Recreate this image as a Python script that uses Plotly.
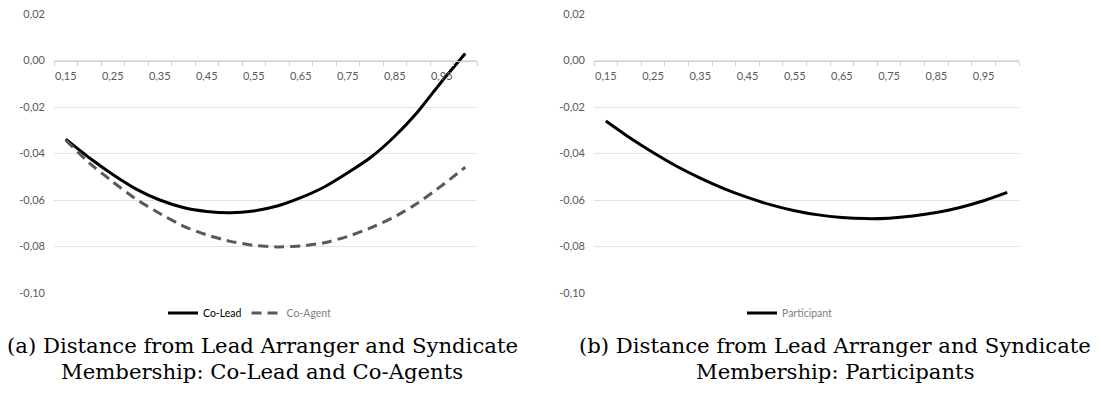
import plotly.graph_objects as go

# ---------------- data ----------------
x_values = [0.15, 0.20, 0.25, 0.30, 0.35, 0.40, 0.45, 0.50, 0.55,
            0.60, 0.65, 0.70, 0.75, 0.80, 0.85, 0.90, 0.95, 1.00]

co_lead = [-0.0338, -0.0418, -0.0490, -0.0553, -0.0600, -0.0632, -0.0649, -0.0655, -0.0647,
           -0.0626, -0.0590, -0.0544, -0.0483, -0.0415, -0.0326, -0.0218, -0.0090, 0.0030]

co_agent = [-0.0343, -0.0440, -0.0522, -0.0597, -0.0658, -0.0712, -0.0750, -0.0778, -0.0795,
            -0.0802, -0.0798, -0.0784, -0.0757, -0.0719, -0.0672, -0.0612, -0.0538, -0.0459]

participant = [-0.0260, -0.0331, -0.0396, -0.0455, -0.0506, -0.0551, -0.0589, -0.0621, -0.0646,
               -0.0664, -0.0675, -0.0680, -0.0678, -0.0669, -0.0654, -0.0632, -0.0603, -0.0567]

x_tick_vals = [0.15, 0.25, 0.35, 0.45, 0.55, 0.65, 0.75, 0.85, 0.95]
x_tick_labels = ["0,15", "0,25", "0,35", "0,45", "0,55", "0,65", "0,75", "0,85", "0,95"]

y_tick_vals = [0.02, 0.00, -0.02, -0.04, -0.06, -0.08, -0.10]
y_tick_labels = ["0,02", "0,00", "-0,02", "-0,04", "-0,06", "-0,08", "-0,10"]

caption_a = ["(a) Distance from Lead Arranger and Syndicate",
             "Membership: Co-Lead and Co-Agents"]
caption_b = ["(b) Distance from Lead Arranger and Syndicate",
             "Membership: Participants"]

# ---------------- geometry ----------------
W, H = 1101, 397
AX_FONT = dict(family="Lato, Open Sans, sans-serif", size=11, color="#595959")
GRID = "#e3e3e3"
AXLINE = "#d0d0d0"

y_bottom_px, y_top_px = 293, 14
y_dom = [(H - y_bottom_px) / H, (H - y_top_px) / H]
y_range = [-0.10, 0.02]
zero_pos = y_dom[0] + (0 - y_range[0]) / (y_range[1] - y_range[0]) * (y_dom[1] - y_dom[0])

left_dom = [54 / W, 477 / W]
right_dom = [594 / W, 1019 / W]
x_range = [0.125, 1.025]

fig = go.Figure()

fig.add_trace(go.Scatter(
    x=x_values, y=co_lead, mode="lines", name="<span style='color:#000000'>Co-Lead</span>",
    line=dict(color="#000000", width=3, shape="spline", smoothing=0.5),
    xaxis="x", yaxis="y", legend="legend"))
fig.add_trace(go.Scatter(
    x=x_values, y=co_agent, mode="lines", name="Co-Agent",
    line=dict(color="#595959", width=3, dash="10px,6px", shape="spline", smoothing=0.5),
    xaxis="x", yaxis="y", legend="legend"))
fig.add_trace(go.Scatter(
    x=x_values, y=participant, mode="lines", name="Participant",
    line=dict(color="#000000", width=3, shape="spline", smoothing=0.5),
    xaxis="x2", yaxis="y2", legend="legend2"))


def xaxis_cfg(domain):
    return dict(
        domain=domain, range=x_range, anchor="free", position=zero_pos, automargin=False,
        showgrid=False, zeroline=False, showline=True, linecolor=AXLINE, linewidth=1,
        tickmode="array", tickvals=x_tick_vals, ticktext=x_tick_labels,
        ticks="", tickfont=AX_FONT, ticklabelstandoff=5,
        minor=dict(ticks="outside", tick0=0.125, dtick=0.05, ticklen=4,
                   tickcolor=AXLINE, tickwidth=1, showgrid=False),
        fixedrange=True)


def yaxis_cfg(anchor_x):
    return dict(
        domain=y_dom, range=y_range, anchor=anchor_x, automargin=False,
        showgrid=True, gridcolor=GRID, gridwidth=1, zeroline=False, showline=False,
        tickmode="array", tickvals=y_tick_vals, ticktext=y_tick_labels,
        ticks="", tickfont=AX_FONT, ticklabelstandoff=8, fixedrange=True)


LEG_FONT = dict(family="Lato, Open Sans, sans-serif", size=10.5, color="#7f7f7f")
fig.update_layout(
    width=W, height=H, autosize=False,
    margin=dict(l=0, r=0, t=0, b=0, pad=0, autoexpand=False),
    paper_bgcolor="white", plot_bgcolor="white",
    xaxis=xaxis_cfg(left_dom),
    yaxis=yaxis_cfg("x"),
    xaxis2=xaxis_cfg(right_dom),
    yaxis2=yaxis_cfg("x2"),
    legend=dict(orientation="h", x=250 / W, y=(H - 313) / H, xanchor="center", yanchor="middle",
                font=LEG_FONT, bgcolor="rgba(0,0,0,0)", itemwidth=30),
    legend2=dict(orientation="h", x=790 / W, y=(H - 313) / H, xanchor="center", yanchor="middle",
                 font=LEG_FONT, bgcolor="rgba(0,0,0,0)", itemwidth=30),
    showlegend=True,
)

CAP_FONT = dict(family="DejaVu Serif, Liberation Serif, serif", size=21.2, color="#000000")
for cx, lines in ((262, caption_a), (835, caption_b)):
    for txt, cy in zip(lines, (345, 371)):
        fig.add_annotation(text=txt, x=cx / W, y=(H - cy) / H, xref="paper", yref="paper",
                           xanchor="center", yanchor="middle", showarrow=False, font=CAP_FONT)

fig.write_html("out.html",
               config={"displayModeBar": False, "staticPlot": True},
               post_script="document.body.style.margin='0';document.body.style.overflow='hidden';")
